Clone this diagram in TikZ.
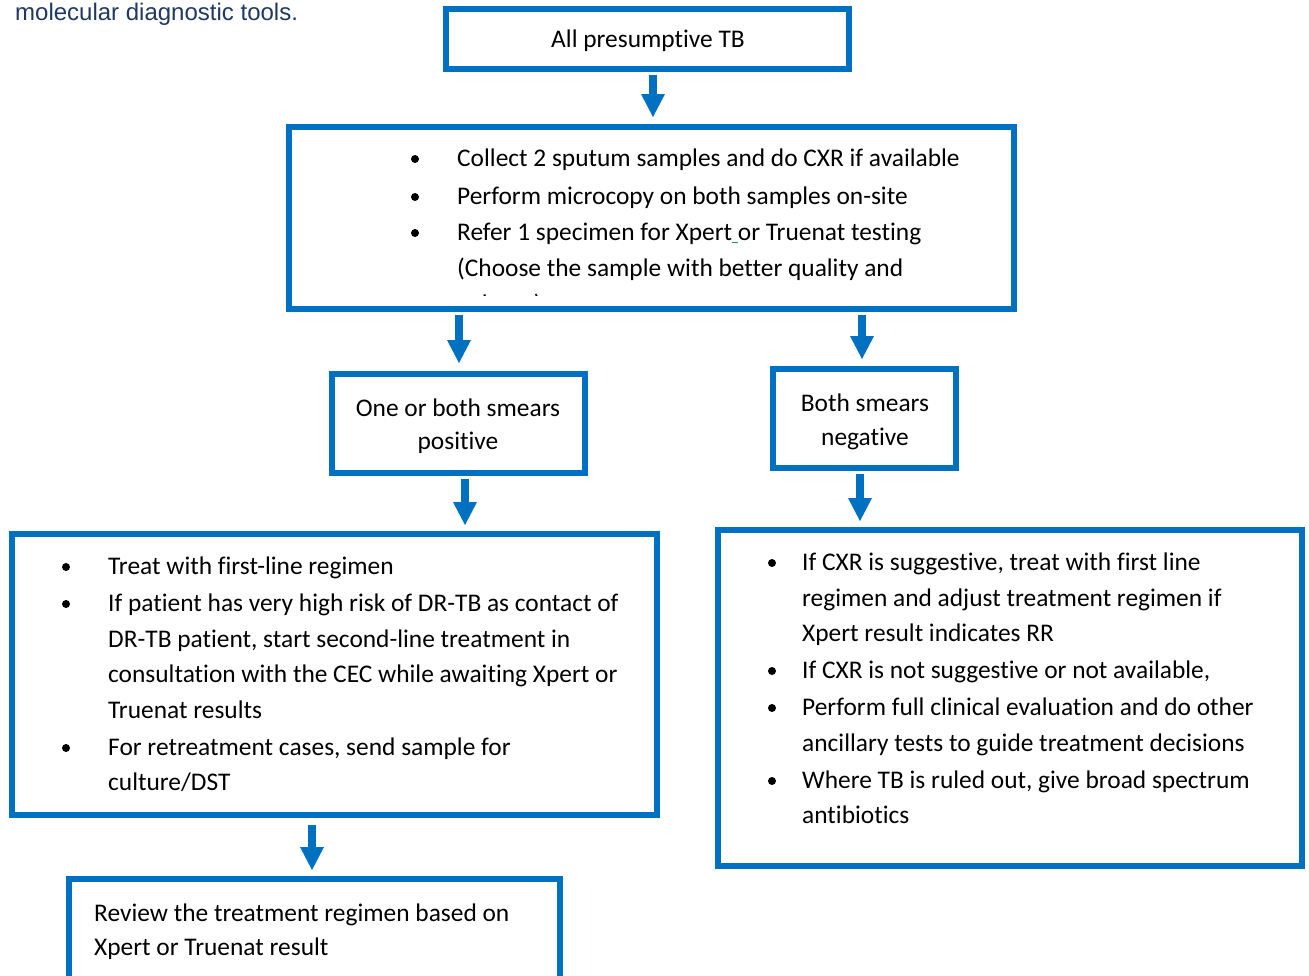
\documentclass[tikz,border=0pt]{standalone}
\usepackage{fontspec}
\setmainfont{Carlito}[Ligatures=NoCommon]
\newfontfamily\headfont{Liberation Sans}
\usetikzlibrary{arrows.meta}
\definecolor{boxblue}{HTML}{0070C0}
\definecolor{navytext}{HTML}{203864}
\definecolor{markteal}{HTML}{1F8A8A}

% one line of body text, left aligned on its baseline
\newcommand\bodyline[4]{\node[txtline] (#1) at (#2,#3+1) {#4};}
% one line of body text, centred on its baseline
\newcommand\midline[4]{\node[txtmid] (#1) at (#2,#3+1) {#4};}
% a list bullet, placed relative to the baseline of its line
\newcommand\bulletdot[2]{\fill[black] (#1,#2-6) circle (4);}

\begin{document}
\begin{tikzpicture}[x=1pt,y=-1pt,
  flowbox/.style={draw=boxblue, line width=6pt, fill=white, inner sep=0pt},
  txtline/.style={anchor=base west, inner sep=0pt, font=\fontsize{25.4}{30}\selectfont},
  txtmid/.style={anchor=base, inner sep=0pt, font=\fontsize{25.4}{30}\selectfont},
  flowarrow/.style={draw=boxblue, line width=8pt,
    -{Triangle[width=24pt,length=23pt,line width=0pt]}, boxblue}]

\useasboundingbox (0,0) rectangle (1309,975);
\clip (0,0) rectangle (1309,975);
\fill[white] (0,0) rectangle (1309,975);

% heading fragment from the surrounding page
\node[anchor=base west, inner sep=0pt, text=navytext,
      font=\headfont\fontsize{24}{28}\selectfont] (pagetext) at (15,20) {molecular diagnostic tools.};

% boxes
\node[flowbox, minimum width=403pt, minimum height=60pt]  (b1) at (647.5,39) {};
\node[flowbox, minimum width=725pt, minimum height=182pt] (b2) at (651.5,218) {};
\node[flowbox, minimum width=253pt, minimum height=99pt]  (b3) at (458.5,423.5) {};
\node[flowbox, minimum width=183pt, minimum height=99pt]  (b4) at (864.5,418.5) {};
\node[flowbox, minimum width=645pt, minimum height=281pt] (b5) at (334.5,674.5) {};
\node[flowbox, minimum width=584pt, minimum height=336pt] (b6) at (1010,698) {};
\node[flowbox, minimum width=491pt, minimum height=128pt] (b7) at (314.5,943) {};

% arrow positions
\coordinate (ax1) at (653,0);
\coordinate (ax2) at (459,0);
\coordinate (ax3) at (862,0);
\coordinate (ax4) at (465,0);
\coordinate (ax5) at (860,0);
\coordinate (ax6) at (312,0);

\draw[flowarrow, shorten <=3pt, shorten >=7pt] (b1.south -| ax1) -- (b2.north -| ax1);
\draw[flowarrow, shorten <=3pt, shorten >=8pt] (b2.south -| ax2) -- (b3.north -| ax2);
\draw[flowarrow, shorten <=3pt, shorten >=7pt] (b2.south -| ax3) -- (b4.north -| ax3);
\draw[flowarrow, shorten <=3pt, shorten >=6pt] (b3.south -| ax4) -- (b5.north -| ax4);
\draw[flowarrow, shorten <=3pt, shorten >=6pt] (b4.south -| ax5) -- (b6.north -| ax5);
\draw[flowarrow, shorten <=7pt, shorten >=6pt] (b5.south -| ax6) -- (b7.north -| ax6);

% box 1
\midline{t1}{648}{46}{All presumptive TB}

% box 2 (the text frame cuts off its last line)
\begin{scope}
  \clip (292,130) rectangle (1011,295);
  \bulletdot{415}{165}
  \bodyline{t2a}{457}{165}{Collect 2 sputum samples and do CXR if available}
  \bulletdot{415}{203}
  \bodyline{t2b}{457}{203}{Perform microcopy on both samples on-site}
  \bulletdot{415}{239}
  \bodyline{t2c}{457}{239}{Refer 1 specimen for Xpert{\color{markteal}\rule[-3pt]{0.226em}{1.2pt}}or Truenat testing}
  \bodyline{t2d}{457}{275}{(Choose the sample with better quality and}
  \bodyline{t2e}{457}{311}{volume)}
\end{scope}

% box 3
\midline{t3a}{458}{415}{One or both smears}
\midline{t3b}{458}{448}{positive}

% box 4
\midline{t4a}{865}{410}{Both smears}
\midline{t4b}{865}{444}{negative}

% box 5
\bulletdot{66}{573}
\bodyline{t5a}{108}{573}{Treat with first-line regimen}
\bulletdot{66}{610}
\bodyline{t5b}{108}{610}{If patient has very high risk of DR-TB as contact of}
\bodyline{t5c}{108}{646}{DR-TB patient, start second-line treatment in}
\bodyline{t5d}{108}{681}{consultation with the CEC while awaiting Xpert or}
\bodyline{t5e}{108}{717}{Truenat results}
\bulletdot{66}{754}
\bodyline{t5f}{108}{754}{For retreatment cases, send sample for}
\bodyline{t5g}{108}{789}{culture/DST}

% box 6
\bulletdot{772}{569}
\bodyline{t6a}{802}{569}{If CXR is suggestive, treat with first line}
\bodyline{t6b}{802}{605}{regimen and adjust treatment regimen if}
\bodyline{t6c}{802}{640}{Xpert result indicates RR}
\bulletdot{772}{677}
\bodyline{t6d}{802}{677}{If CXR is not suggestive or not available,}
\bulletdot{772}{714}
\bodyline{t6e}{802}{714}{Perform full clinical evaluation and do other}
\bodyline{t6f}{802}{750}{ancillary tests to guide treatment decisions}
\bulletdot{772}{787}
\bodyline{t6g}{802}{787}{Where TB is ruled out, give broad spectrum}
\bodyline{t6h}{802}{822}{antibiotics}

% box 7
\bodyline{t7a}{94}{920}{Review the treatment regimen based on}
\bodyline{t7b}{94}{954}{Xpert or Truenat result}

\end{tikzpicture}
\end{document}
